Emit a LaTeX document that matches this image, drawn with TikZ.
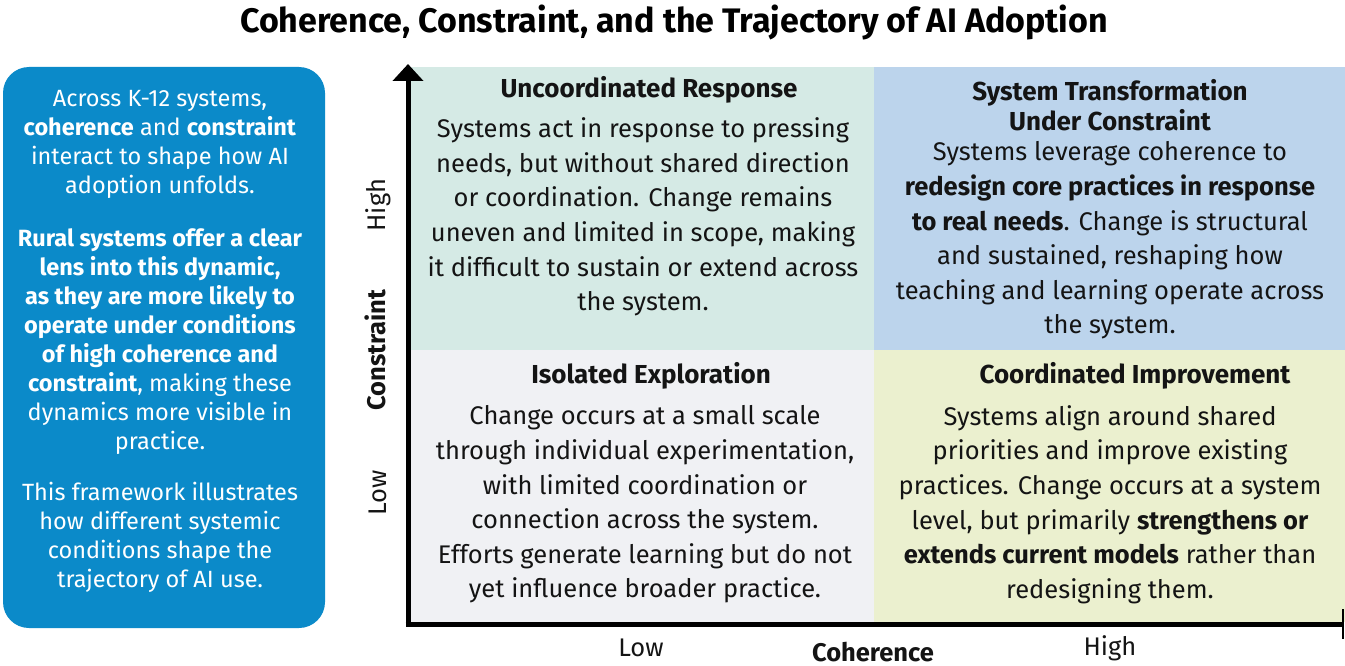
\documentclass[tikz,border=0pt]{standalone}
\usepackage{fontspec}
\setmainfont{Fira Sans}
\usetikzlibrary{arrows.meta,positioning}

\definecolor{introblue}{HTML}{0B8AC9}
\definecolor{tlfill}{HTML}{D5EAE5}
\definecolor{trfill}{HTML}{BCD4EC}
\definecolor{blfill}{HTML}{F0F1F4}
\definecolor{brfill}{HTML}{EBF0CF}
\definecolor{ink}{HTML}{141414}

\begin{document}
\begin{tikzpicture}[%
    x=1pt, y=-1pt,
    quad/.style={rectangle, inner sep=0pt, outer sep=0pt, anchor=north west},
    qhead/.style={font=\fontsize{26}{30}\selectfont\bfseries, align=center, text=ink},
    qbody/.style={font=\fontsize{25.5}{34.6}\selectfont, align=center, text=ink},
    axislabel/.style={font=\fontsize{25.5}{28}\selectfont, text=ink},
    axisname/.style={font=\fontsize{25.5}{28}\selectfont\bfseries, text=ink},
    axisline/.style={line width=5pt, draw=black}
  ]
  \useasboundingbox (0,0) rectangle (1345,666);

  % title
  \node[font=\fontsize{34}{40}\selectfont\bfseries, text=black] (title) at (674,22)
    {Coherence, Constraint, and the Trajectory of AI Adoption};

  % intro panel
  \node[rectangle, rounded corners=26pt, fill=introblue, minimum width=322pt,
        minimum height=561pt, inner sep=0pt] (intro) at (164,347.5) {};
  \node[font=\fontsize{23.5}{29}\selectfont, text=white, align=center] (introtext) at (160,341)
    {Across K-12 systems,\\
     \textbf{coherence} and \textbf{constraint}\\
     interact to shape how AI\\
     adoption unfolds.\\[24pt]
     \textbf{Rural systems offer a clear}\\
     \textbf{lens into this dynamic,}\\
     \textbf{as they are more likely to}\\
     \textbf{operate under conditions}\\
     \textbf{of high coherence and}\\
     \textbf{constraint}, making these\\
     dynamics more visible in\\
     practice.\\[22pt]
     This framework illustrates\\
     how different systemic\\
     conditions shape the\\
     trajectory of AI use.};

  % quadrants
  \node[quad, fill=tlfill, minimum width=464pt, minimum height=283pt] (tl) at (410,67) {};
  \node[quad, fill=trfill, minimum width=471pt, minimum height=283pt] (tr) at (tl.north east) {};
  \node[quad, fill=blfill, minimum width=464pt, minimum height=272pt] (bl) at (tl.south west) {};
  \node[quad, fill=brfill, minimum width=471pt, minimum height=272pt] (br) at (bl.north east) {};

  \node[qhead] (tlhead) at (649,90) {Uncoordinated Response};
  \node[qbody] (tlbody) at (643,217)
    {Systems act in response to pressing\\
     needs, but without shared direction\\
     or coordination. Change remains\\
     uneven and limited in scope, making\\
     it difficult to sustain or extend across\\
     the system.};

  \node[qhead] (trhead) at (1110,105) {System Transformation\\Under Constraint};
  \node[qbody] (trbody) at (1110,240.5)
    {Systems leverage coherence to\\
     \textbf{redesign core practices in response}\\
     \textbf{to real needs}. Change is structural\\
     and sustained, reshaping how\\
     teaching and learning operate across\\
     the system.};

  \node[qhead] (blhead) at (651,376) {Isolated Exploration};
  \node[qbody] (blbody) at (645,504.5)
    {Change occurs at a small scale\\
     through individual experimentation,\\
     with limited coordination or\\
     connection across the system.\\
     Efforts generate learning but do not\\
     yet influence broader practice.};

  \node[qhead] (brhead) at (1135,376) {Coordinated Improvement};
  \node[qbody] (brbody) at (1110,504.5)
    {Systems align around shared\\
     priorities and improve existing\\
     practices. Change occurs at a system\\
     level, but primarily \textbf{strengthens or}\\
     \textbf{extends current models} rather than\\
     redesigning them.};

  % axes
  \coordinate (origin) at (408,624);
  \coordinate (ytop) at (408,64);
  \coordinate (xend) at (1344,624);
  \draw[axisline, -{Triangle[width=30pt,length=17pt]}] ([yshift=-2.5pt]origin) -- (ytop);
  \draw[axisline, -{Bar[width=30pt,line width=2pt]}] ([xshift=-2.5pt]origin) -- (xend);

  \node[axislabel, rotate=90] (yhigh) at (378,205) {High};
  \node[axisname, rotate=90] (yname) at (375,350) {Constraint};
  \node[axislabel, rotate=90] (ylow) at (378,493) {Low};

  \node[axislabel] (xlow) at (641,648) {Low};
  \node[axisname] (xname) at (873,652) {Coherence};
  \node[axislabel] (xhigh) at (1110,648) {High};
\end{tikzpicture}
\end{document}
